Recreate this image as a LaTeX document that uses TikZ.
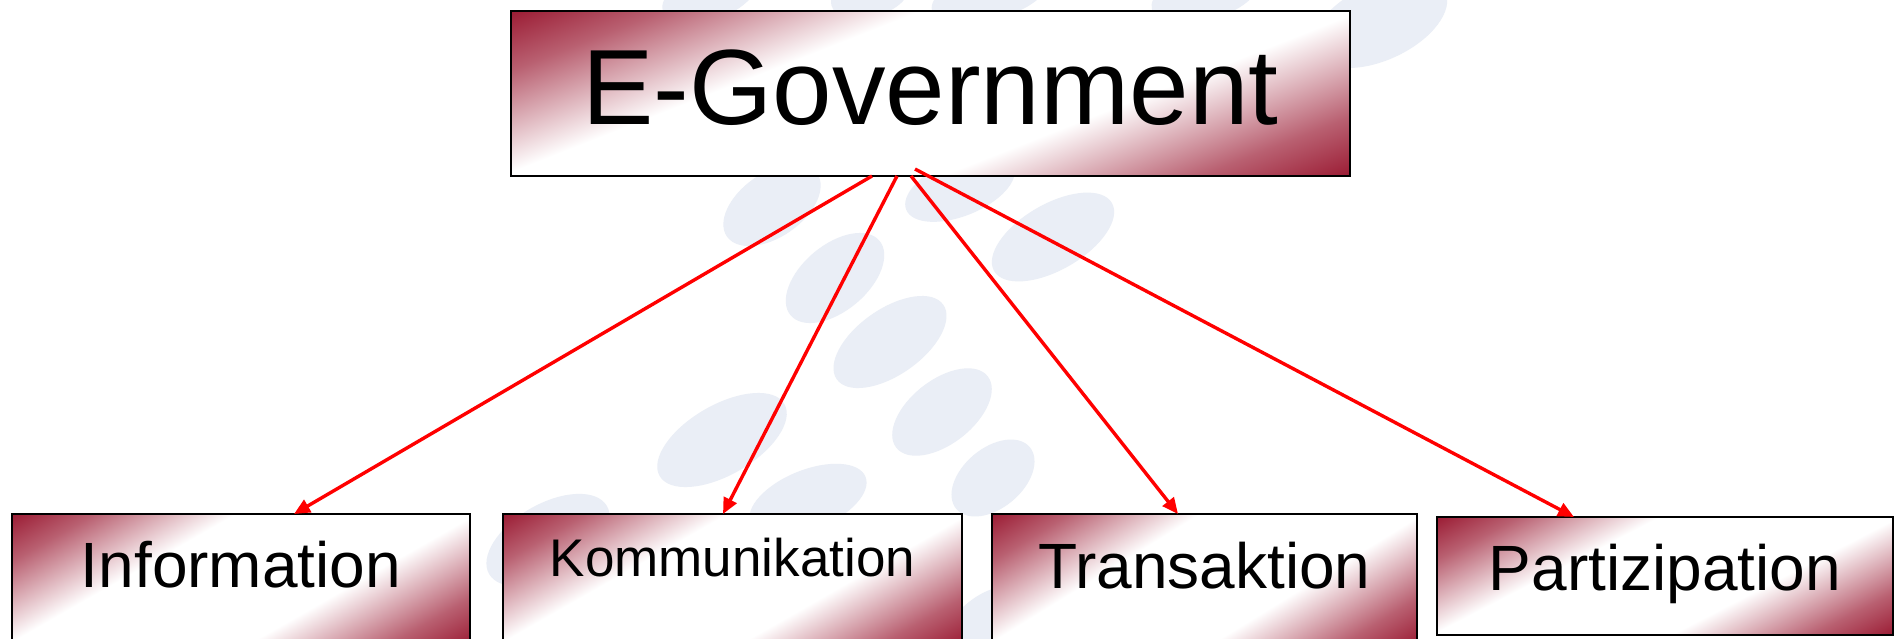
\documentclass[tikz,border=0pt]{standalone}
\usepackage{fontspec}
\setmainfont{Liberation Sans}
\usetikzlibrary{arrows.meta,calc}
\definecolor{mar}{RGB}{155,28,52}
\colorlet{marmid}{mar!70!white}
\definecolor{blobc}{RGB}{234,238,246}
\definecolor{arrred}{RGB}{255,0,0}
\pgfdeclarehorizontalshading{boxshade}{100bp}{color(0bp)=(mar); color(27.64bp)=(mar); color(33bp)=(marmid); color(42.2bp)=(white); color(57.8bp)=(white); color(67bp)=(marmid); color(72.36bp)=(mar); color(100bp)=(mar)}
\tikzset{
  gbox/.style={draw=black, line width=1.2pt, inner sep=0pt, outer sep=0pt, anchor=north west},
  gshade/.style={shading=boxshade, shading angle=0},
  blob/.style={fill=blobc},
  arr/.style={draw=arrred, line width=1.7pt, -{Triangle[length=8pt,width=7pt]}},
  bigtxt/.style={font=\fontsize{53.5}{60}\selectfont},
  midtxt/.style={font=\fontsize{32}{38}\selectfont},
  smalltxt/.style={font=\fontsize{26.5}{32}\selectfont},
}
% diagonal gradient for a box given in px: left, top, width, height
\newcommand{\boxgradient}[4]{%
  \begin{scope}
    \clip (#1,#2) rectangle ++(#3,#4);
    \begin{scope}[transform canvas={shift={({(#1+#3/2)*0.5pt},{-(#2+#4/2)*0.5pt})}, xscale=#3/40, yscale=#4/40, rotate=-26.57}]
      \shade[gshade] (-15pt,-15pt) rectangle (15pt,15pt);
    \end{scope}
  \end{scope}}
\begin{document}
\begin{tikzpicture}[x=0.5pt,y=-0.5pt]
\clip (0,0) rectangle (1895,638);
\fill[white] (0,0) rectangle (1895,638);
% background watermark blobs
\foreach \cx/\cy/\a/\b/\r in {772/205/55/32/35, 960/188/58/28/22, 1053/237/68/33/30,
  835/278/58/33/40, 890/342/65/33/35, 942/412/58/32/38, 722/440/72/35/30,
  993/478/48/30/40, 808/500/62/30/22, 548/540/68/36/30, 985/625/50/28/40,
  710/-5/50/25/20, 870/-5/40/22/15, 990/-5/60/25/15, 1205/-5/55/25/15, 1380/22/72/38/25}
{
  \fill[blob, rotate around={\r:(\cx,\cy)}] (\cx,\cy) ellipse [x radius=0.5*\a pt, y radius=0.5*\b pt];
}
% box gradients
\boxgradient{511}{11}{839}{165}
\boxgradient{12}{514}{458}{131}
\boxgradient{503}{514}{459}{131}
\boxgradient{992}{514}{425}{131}
\boxgradient{1437}{517}{456}{118}
% boxes
\node[gbox, bigtxt, minimum width=419.5pt, text height=56.5pt, text depth=26pt] (gov) at (511,11) {E-Government};
\node[gbox, midtxt, minimum width=229pt, text height=36.5pt, text depth=29pt] (info) at (12,514) {Information};
\node[gbox, smalltxt, minimum width=229.5pt, text height=31pt, text depth=34.5pt] (komm) at (503,514) {Kommunikation};
\node[gbox, midtxt, minimum width=212.5pt, text height=37pt, text depth=28.5pt] (trans) at (992,514) {Transaktion};
\node[gbox, midtxt, minimum width=228pt, text height=36.5pt, text depth=22.5pt] (part) at (1437,517) {Partizipation};
% connectors
\draw[arr] ($(gov.south)+(-58.5,0)$) -- ($(info.north)+(53,0)$);
\draw[arr] ($(gov.south)+(-33.5,0)$) -- ($(komm.north)+(-9.5,0)$);
\draw[arr] ($(gov.south)+(-19.5,0)$) -- ($(trans.north)+(-26.5,0)$);
\draw[arr] ($(gov.south)+(-15.5,-7)$) -- ($(part.north)+(-91,0)$);
\end{tikzpicture}
\end{document}
